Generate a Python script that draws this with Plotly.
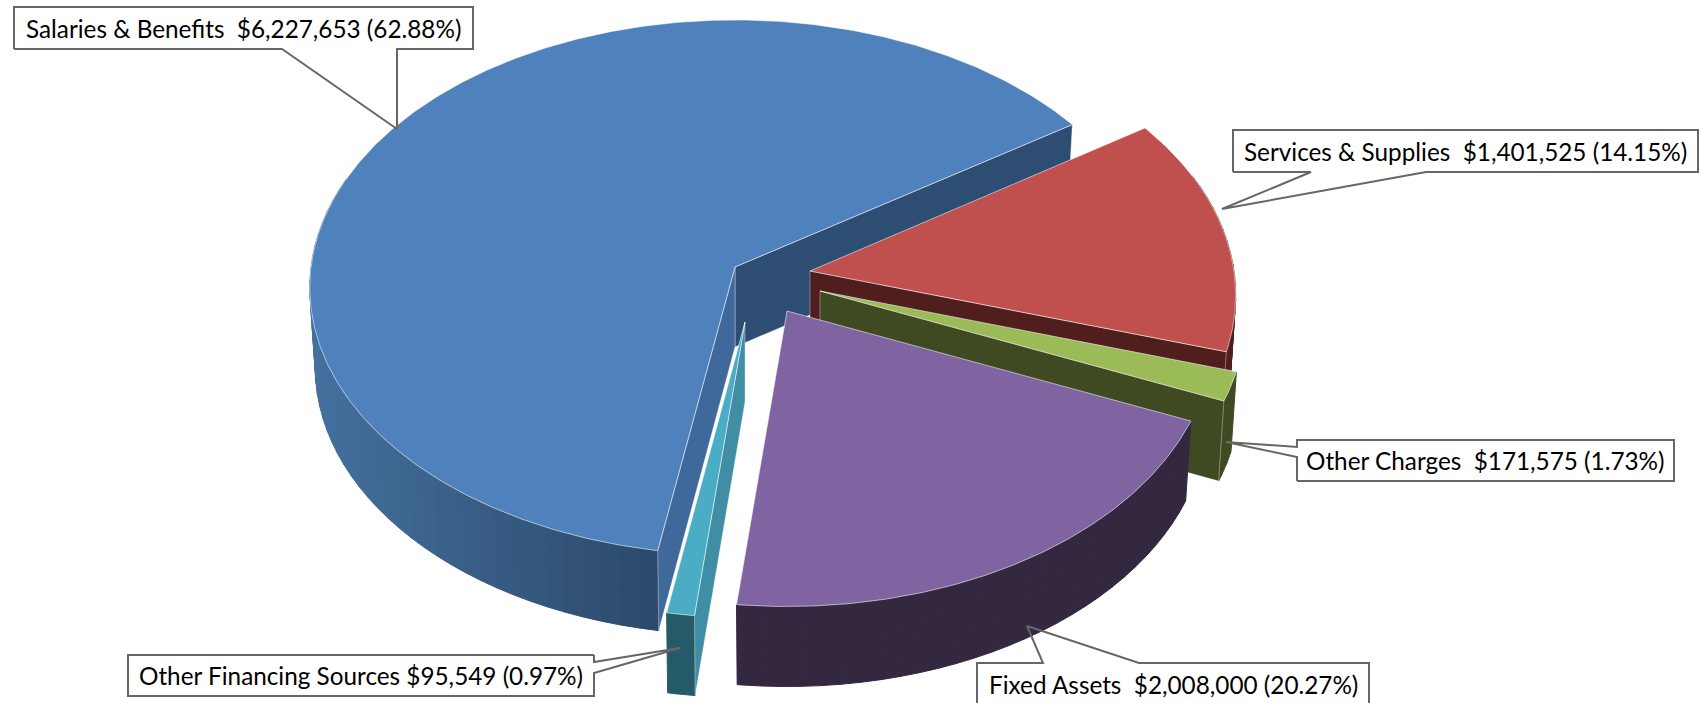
import numpy as np
import plotly.graph_objects as go

# ---------- data ----------
categories = ["Salaries & Benefits", "Services & Supplies", "Other Charges", "Fixed Assets", "Other Financing Sources"]
amounts = [6227653, 1401525, 171575, 2008000, 95549]
percent_labels = ["62.88%", "14.15%", "1.73%", "20.27%", "0.97%"]
separators = ["  ", "  ", "  ", "  ", " "]

# ---------- styling ----------
top_colors = ["#4f81bd", "#c0504d", "#9bbb59", "#8064a2", "#4bacc6"]
arc_left_colors = ["#44709f", "#5a2423", "#3f4a22", "#402f4e", "#255b68"]
arc_right_colors = ["#27425f", "#4f1e1d", "#3f4a22", "#33283f", "#255b68"]
start_wall_colors = ["#40699b", None, None, None, "#3f8ea3"]
end_wall_colors = ["#2e4d73", "#4f1e1d", "#3f4a22", None, None]
pull = [(0, 0), (75, 4), (85, 24), (52, 44), (10, 55)]
persp = [0.0767, 0.0897, 0.0897, 0.0897, 0.0897]
radius_y = [266, 269, 269, 269, 269]
draw_order = [0, 1, 2, 4, 3]

CENTER = (735, 267)
RX, DEPTH, SHRINK = 424, 80, 0.987
FIRST_ANGLE = 189.7  # clockwise from the back of the pie
EDGE = "rgba(255,255,255,0.55)"

FONT = "Lato"
FONT_SIZE = 24.3
TEXT = "#000000"
BOX_LINE = "#666666"

# callouts: box (x0, y0, x1, y1), wedge base on the box, tip
callouts = [
    dict(box=(14, 7, 473, 49), side="bottom", base=(282, 397), tip=(397, 129)),
    dict(box=(1233, 130, 1698, 172), side="bottom", base=(1311, 1426), tip=(1222, 209)),
    dict(box=(1297, 440, 1674, 481), side="left", base=(447, 457), tip=(1226, 442)),
    dict(box=(977, 663, 1369, 708), side="top", base=(1043, 1139), tip=(1027, 626)),
    dict(box=(128, 655, 594, 696), side="right", base=(662, 673), tip=(680, 648)),
]

# ---------- geometry ----------
total = sum(amounts)
sweeps = [v / total * 360 for v in amounts]
starts = [FIRST_ANGLE + sum(sweeps[:i]) for i in range(len(sweeps))]


def rim(phi_deg, i):
    p = np.radians(np.asarray(phi_deg, dtype=float))
    X, Y = np.sin(p), np.cos(p)
    w = 1 + persp[i] * Y
    return RX * X / w, -radius_y[i] * Y / w


def to_hex(c):
    return "#%02x%02x%02x" % tuple(int(round(v)) for v in c)


def mix(a, b, t):
    ca = [int(a[i:i + 2], 16) for i in (1, 3, 5)]
    cb = [int(b[i:i + 2], 16) for i in (1, 3, 5)]
    return to_hex([x + (y - x) * t for x, y in zip(ca, cb)])


fig = go.Figure()


def poly(xs, ys, fill, line=None, width=1):
    fig.add_trace(go.Scatter(
        x=list(xs), y=list(ys), mode="lines", fill="toself", fillcolor=fill,
        line=dict(color=line or fill, width=width), hoverinfo="skip", showlegend=False))


for i in draw_order:
    ax = CENTER[0] + pull[i][0]
    ay = CENTER[1] + pull[i][1]
    a0, a1 = starts[i], starts[i] + sweeps[i]

    # outer wall, split into bands for the shading
    phis = np.arange(a0, a1 + 2.5, 2.5)
    phis = phis[phis <= a1]
    if phis[-1] < a1:
        phis = np.append(phis, a1)
    rx, ry = rim(phis, i)
    sx_top, sy_top = ax + rx, ay + ry
    sx_bot, sy_bot = ax + rx * SHRINK, ay + ry + DEPTH
    for j in range(len(phis) - 1):
        if np.cos(np.radians((phis[j] + phis[j + 1]) / 2)) > 0.35:
            continue  # back of the slice, hidden behind its top
        left_x = ax - RX
        t = np.clip((sx_top[j] - left_x) / (RX * 1.0), 0, 1)
        col = mix(arc_left_colors[i], arc_right_colors[i], t)
        poly([sx_top[j], sx_top[j + 1], sx_bot[j + 1], sx_bot[j], sx_top[j]],
             [sy_top[j], sy_top[j + 1], sy_bot[j + 1], sy_bot[j], sy_top[j]], col)

    # cut faces
    for ang, col in ((a1, end_wall_colors[i]), (a0, start_wall_colors[i])):
        if col is None:
            continue
        ex, ey = rim([ang], i)
        ex, ey = float(ex[0]), float(ey[0])
        poly([ax, ax + ex, ax + ex * SHRINK, ax, ax],
             [ay, ay + ey, ay + ey + DEPTH, ay + DEPTH, ay], col, "rgba(255,255,255,0.35)")

    # top face
    phis_top = np.linspace(a0, a1, max(4, int(sweeps[i] * 2)))
    tx, ty = rim(phis_top, i)
    poly(np.r_[ax, ax + tx, ax], np.r_[ay, ay + ty, ay], top_colors[i], EDGE)

# ---------- callouts ----------
for c in callouts:
    x0, y0, x1, y1 = c["box"]
    poly([x0, x1, x1, x0, x0], [y0, y0, y1, y1, y0], "#ffffff", "#ffffff", 0.1)
    b0, b1 = c["base"]
    tx, ty = c["tip"]
    if c["side"] == "bottom":
        px = [x0, x0, x1, x1, b1, tx, b0, x0]
        py = [y1, y0, y0, y1, y1, ty, y1, y1]
    elif c["side"] == "top":
        px = [x0, x0, b0, tx, b1, x1, x1]
        py = [y1, y0, y0, ty, y0, y0, y1]
    elif c["side"] == "left":
        px = [x0, x0, tx, x0, x0, x1, x1, x0]
        py = [y1, b1, ty, b0, y0, y0, y1, y1]
    else:
        px = [x1, x1, tx, x1, x1, x0, x0, x1]
        py = [y0, b0, ty, b1, y1, y1, y0, y0]
    fig.add_trace(go.Scatter(x=px, y=py, mode="lines", line=dict(color=BOX_LINE, width=2),
                             hoverinfo="skip", showlegend=False))

for c, cat, v, pct, sep in zip(callouts, categories, amounts, percent_labels, separators):
    x0, y0, x1, y1 = c["box"]
    ym = (y0 + y1) / 2 if y1 <= 703 else y0 + 21
    fig.add_annotation(x=(x0 + x1) / 2, y=ym, text=f"{cat}{sep}${v:,} ({pct})",
                       showarrow=False, xanchor="center", yanchor="middle",
                       font=dict(family=FONT, size=FONT_SIZE, color=TEXT))

fig.update_layout(
    width=1701, height=703, margin=dict(l=0, r=0, t=0, b=0),
    paper_bgcolor="white", plot_bgcolor="white", showlegend=False,
    xaxis=dict(range=[0, 1701], visible=False, fixedrange=True),
    yaxis=dict(range=[703, 0], visible=False, fixedrange=True),
)
fig.write_html("out.html", config={"displayModeBar": False},
               post_script="document.body.style.margin='0';document.documentElement.style.overflow='hidden';")
